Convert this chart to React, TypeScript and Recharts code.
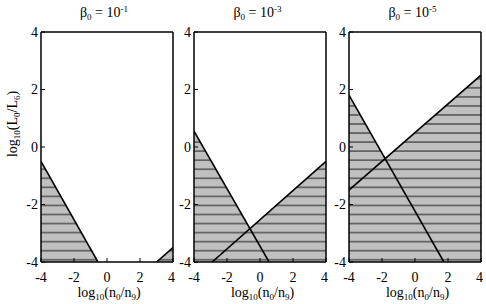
import { ComposedChart, Line, Area, XAxis, YAxis } from 'recharts'

const xTicks = [-4, -2, 0, 2, 4]
const yTicks = [-4, -2, 0, 2, 4]
const betaExponents = ['-1', '-3', '-5']

// falling boundary, rising boundary and the hatched region's upper edge, one set per panel
const fall1 = [{ x: -4, y: -0.5 }, { x: -0.55, y: -4 }]
const rise1 = [{ x: 3, y: -4 }, { x: 4, y: -3.5 }]
const shade1 = [{ x: -4, y: -0.5 }, { x: -0.55, y: -4 }, { x: 3, y: -4 }, { x: 4, y: -3.5 }]

const fall2 = [{ x: -4, y: 0.55 }, { x: 0.55, y: -4 }]
const rise2 = [{ x: -2.9, y: -4 }, { x: 4, y: -0.5 }]
const shade2 = [{ x: -4, y: 0.55 }, { x: -0.6, y: -2.85 }, { x: 4, y: -0.5 }]

const fall3 = [{ x: -4, y: 1.8 }, { x: 1.75, y: -4 }]
const rise3 = [{ x: -4, y: -1.5 }, { x: 4, y: 2.5 }]
const shade3 = [{ x: -4, y: 1.8 }, { x: -1.81, y: -0.41 }, { x: 4, y: 2.5 }]

const panels = [
    { fall: fall1, rise: rise1, shade: shade1 },
    { fall: fall2, rise: rise2, shade: shade2 },
    { fall: fall3, rise: rise3, shade: shade3 },
]

const chartLefts = [0, 153, 308]
const font = '"Liberation Serif", "DejaVu Serif", serif'

function Panel({ idx }: { idx: number }) {
    const p = panels[idx]
    const pid = `hatch${idx}`
    return (
        <div style={{ position: 'absolute', left: chartLefts[idx], top: 0 }}>
            <ComposedChart
                width={175}
                height={304}
                margin={{ top: 31, right: 1, bottom: 0, left: 11 }}
            >
                <defs>
                    <pattern id={pid} patternUnits="userSpaceOnUse" width={10} height={9.05}>
                        <rect x={0} y={0} width={10} height={9.05} fill="#c0c0c0" />
                        <line x1={0} x2={10} y1={6.35} y2={6.35} stroke="#000" strokeWidth={0.9} />
                    </pattern>
                </defs>
                <XAxis
                    dataKey="x"
                    type="number"
                    domain={[-4, 4]}
                    ticks={xTicks}
                    allowDataOverflow
                    height={42}
                    tickSize={-4}
                    tickMargin={14}
                    axisLine={{ stroke: '#000', strokeWidth: 1.5 }}
                    tickLine={{ stroke: '#000', strokeWidth: 1 }}
                    tick={{ fill: '#000', fontSize: 14 }}
                />
                <XAxis
                    xAxisId="top"
                    orientation="top"
                    dataKey="x"
                    type="number"
                    domain={[-4, 4]}
                    ticks={xTicks}
                    allowDataOverflow
                    height={1}
                    tickSize={-4}
                    tick={false}
                    axisLine={{ stroke: '#000', strokeWidth: 1.5 }}
                    tickLine={{ stroke: '#000', strokeWidth: 1 }}
                />
                <YAxis
                    type="number"
                    domain={[-4, 4]}
                    ticks={yTicks}
                    allowDataOverflow
                    width={30}
                    tickSize={-4}
                    tickMargin={7}
                    axisLine={{ stroke: '#000', strokeWidth: 1.5 }}
                    tickLine={{ stroke: '#000', strokeWidth: 1 }}
                    tick={{ fill: '#000', fontSize: 14 }}
                />
                <YAxis
                    yAxisId="right"
                    orientation="right"
                    type="number"
                    domain={[-4, 4]}
                    ticks={yTicks}
                    allowDataOverflow
                    width={1}
                    tickSize={-4}
                    tick={false}
                    axisLine={{ stroke: '#000', strokeWidth: 1.5 }}
                    tickLine={{ stroke: '#000', strokeWidth: 1 }}
                />
                <Area
                    data={p.shade}
                    dataKey="y"
                    type="linear"
                    baseValue={-4}
                    fill={`url(#${pid})`}
                    fillOpacity={1}
                    stroke="none"
                    isAnimationActive={false}
                />
                <Line data={p.fall} dataKey="y" type="linear" stroke="#000" strokeWidth={1.6} dot={false} isAnimationActive={false} />
                <Line data={p.rise} dataKey="y" type="linear" stroke="#000" strokeWidth={1.6} dot={false} isAnimationActive={false} />
            </ComposedChart>
        </div>
    )
}

const plotCenters = [107, 260.5, 415.5]
const sub = { fontSize: 9, position: 'relative' as const, top: 3 }

export default function App() {
    return (
        <div style={{ position: 'absolute', left: 0, top: 0, width: 486, height: 304, background: '#fff', fontFamily: font, color: '#000', overflow: 'hidden' }}>
            <style>{`.recharts-text, .recharts-cartesian-axis-tick-value { font-family: ${font}; }`}</style>
            {[0, 1, 2].map(i => <Panel key={i} idx={i} />)}
            {betaExponents.map((e, i) => (
                <div key={'t' + i} style={{ position: 'absolute', left: plotCenters[i] - 3, top: 13, transform: 'translate(-50%, -50%)', fontSize: 14, whiteSpace: 'nowrap', lineHeight: 1 }}>
                    β<span style={sub}>0</span> = 10<span style={{ fontSize: 9, position: 'relative', top: -5 }}>{e}</span>
                </div>
            ))}
            {plotCenters.map((c, i) => (
                <div key={'x' + i} style={{ position: 'absolute', left: c + 2, top: 293, transform: 'translate(-50%, -50%)', fontSize: 14, whiteSpace: 'nowrap', lineHeight: 1 }}>
                    log<span style={sub}>10</span>(n<span style={sub}>0</span>/n<span style={sub}>9</span>)
                </div>
            ))}
            <div style={{ position: 'absolute', left: 13, top: 124, transform: 'translate(-50%, -50%) rotate(-90deg)', fontSize: 14, whiteSpace: 'nowrap', lineHeight: 1 }}>
                log<span style={sub}>10</span>(L<span style={sub}>0</span>/L<span style={sub}>6</span>)
            </div>
        </div>
    )
}
